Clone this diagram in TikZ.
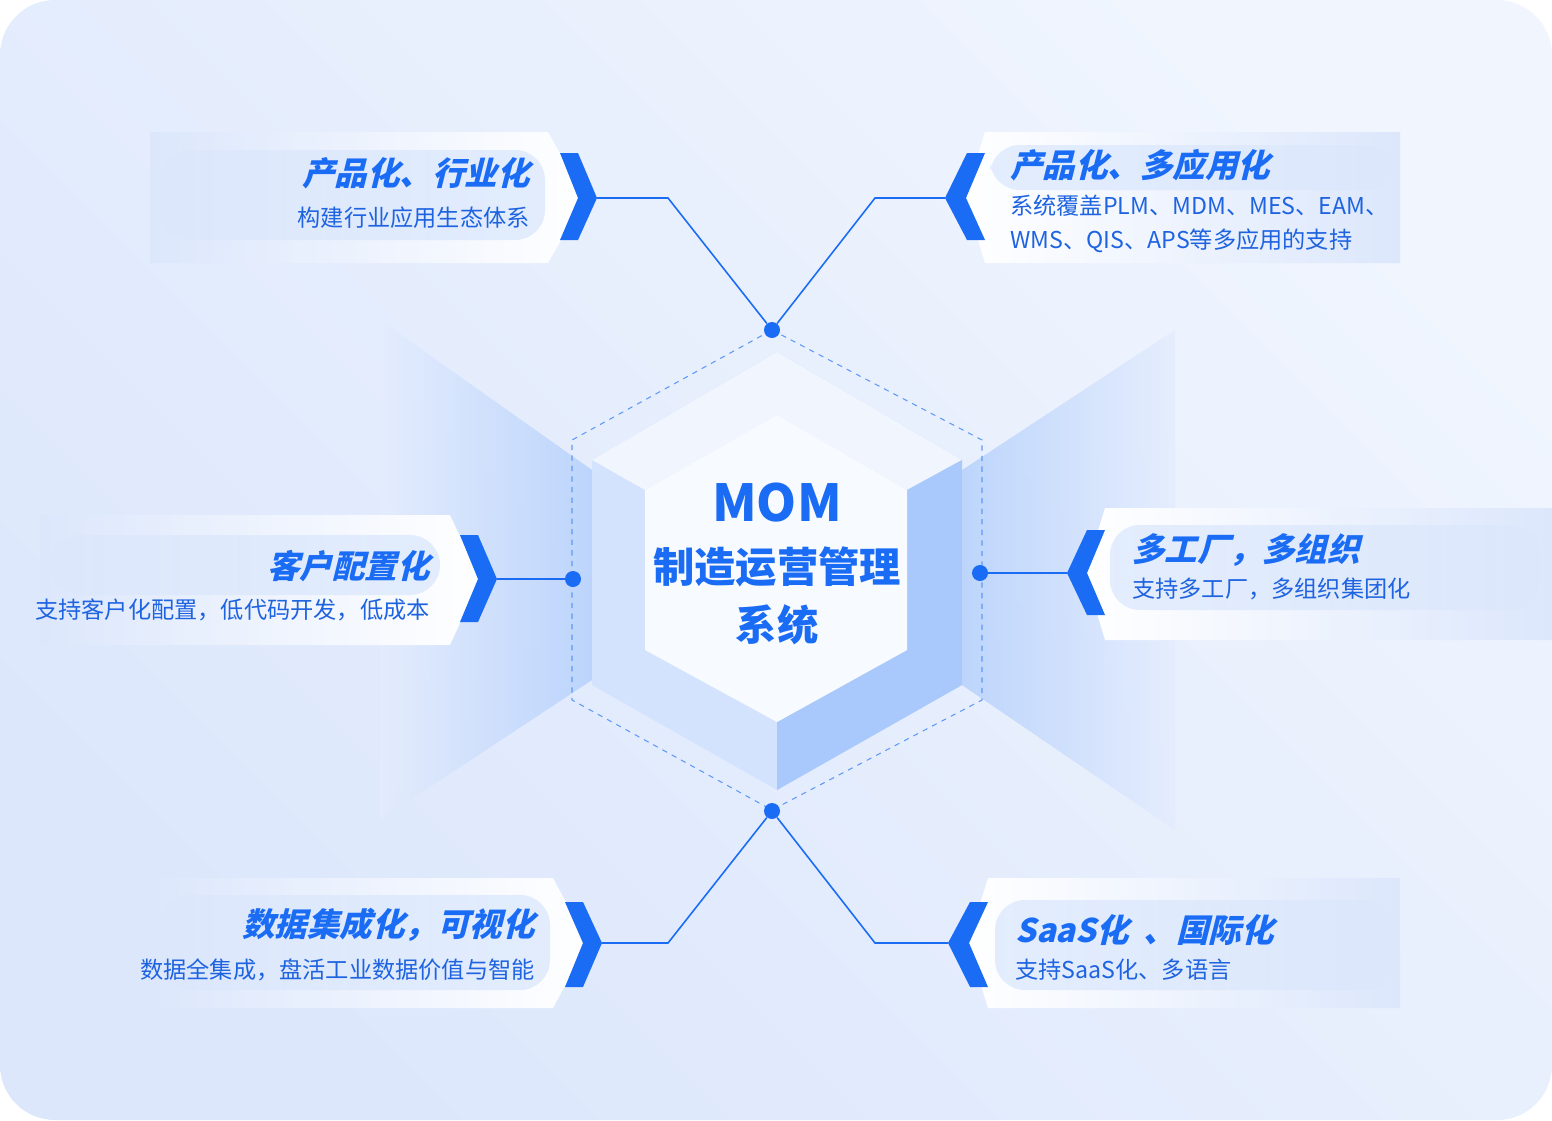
\documentclass[tikz,border=0pt]{standalone}
\usepackage{fontspec}
\newfontfamily\cjk{Noto Sans CJK SC}
\newfontfamily\cjkb{Noto Sans CJK SC}[UprightFont=* Black]
\newfontfamily\cjkt{Noto Sans CJK SC}[UprightFont=* Black,FakeSlant=0.25]
\definecolor{bgA}{HTML}{DCE7FC}
\definecolor{bgB}{HTML}{F0F5FE}
\definecolor{mblue}{HTML}{1A6CF5}
\definecolor{tblue}{HTML}{1E63E0}
\definecolor{lface}{HTML}{D4E3FD}
\definecolor{rface}{HTML}{A9C9FC}
\definecolor{tface}{HTML}{F7FAFF}
\definecolor{glow}{HTML}{B3CFFC}
\begin{document}
\begin{tikzpicture}[x=0.02cm,y=-0.02cm,
  ttl/.style={font=\cjkt\fontsize{18.5}{20}\selectfont,text=mblue,inner sep=0},
  sub/.style={font=\cjk\fontsize{13.2}{19}\selectfont,text=tblue,inner sep=0,align=left},
  chev/.style={fill=mblue},
  conn/.style={draw=mblue,line width=0.9pt},
  dot/.style={circle,fill=mblue,inner sep=0,minimum size=0.32cm},
  strip/.style={opacity=.35,rounded corners=0.6cm}]
% background
\shade[left color=bgA,right color=bgB,shading angle=135,rounded corners=1.1cm] (0,0) rectangle (1552,1120);
\useasboundingbox (0,0) rectangle (1552,1120);
% fans
\shade[left color=bgA!60!bgB,right color=glow,opacity=0.8] (380,320)--(592,470)--(592,680)--(380,820)--cycle;
\shade[right color=bgA!60!bgB,left color=glow,opacity=0.8] (1175,330)--(962,470)--(962,685)--(1175,830)--cycle;
% dashed hexagon
\draw[mblue!70,dashed,line width=0.6pt] (772,330)--(982,440)--(982,700)--(772,810)--(572,700)--(572,440)--cycle;
% cube
\fill[lface] (777,352)--(962,460)--(962,685)--(777,790)--(592,685)--(592,460)--cycle;
\fill[tface!80!lface] (777,352)--(962,460)--(907,490)--(777,415)--(645,490)--(592,460)--cycle;
\fill[rface] (907,490)--(962,460)--(962,685)--(777,790)--(777,722)--(907,650)--cycle;
\fill[tface] (777,415)--(907,490)--(907,650)--(777,722)--(645,650)--(645,490)--cycle;
\node[font=\cjkb\fontsize{29}{32}\selectfont,text=mblue] (mom) at (777,503) {MOM};
\node[font=\cjkb\fontsize{23.5}{25}\selectfont,text=mblue] (zz) at (777,567) {制造运营管理};
\node[font=\cjkb\fontsize{23.5}{25}\selectfont,text=mblue] (xt) at (777,625) {系统};
% dots
\node[dot] (dt) at (772,330) {};
\node[dot] (db) at (772,811) {};
\node[dot] (dl) at (573,579) {};
\node[dot] (dr) at (980,573) {};
% card 1 top-left
\shade[left color=bgA,right color=white] (150,132)--(548,132)--(585,198)--(548,263)--(150,263)--cycle;
\shade[left color=bgA,right color=glow,strip] (160,150)rectangle(545,240);
\fill[chev] (560,153)--(578,153)--(597,198)--(578,240)--(560,240)--(578,198)--cycle;
\coordinate (c1) at (597,198);
\node[ttl,anchor=east] (t1) at (530,173) {产品化、行业化};
\node[sub,anchor=east] (s1) at (530,218) {构建行业应用生态体系};
\draw[conn] (c1)--(668,198)--(dt);
% card 2 top-right
\shade[right color=bgA,left color=white] (985,132)--(1400,132)--(1400,263)--(985,263)--(965,198)--cycle;
\shade[right color=bgA,left color=glow,strip] (990,145)rectangle(1395,190);
\fill[chev] (985,153)--(967,153)--(945,198)--(967,240)--(985,240)--(966,198)--cycle;
\coordinate (c2) at (945,198);
\node[ttl,anchor=west] (t2) at (1010,165) {产品化、多应用化};
\node[sub,anchor=north west] (s2) at (1010,195) {系统覆盖PLM、MDM、MES、EAM、\\WMS、QIS、APS等多应用的支持};
\draw[conn] (c2)--(875,198)--(dt);
% card 3 left-middle
\shade[left color=bgA,right color=white] (40,515)--(450,515)--(480,579)--(450,645)--(40,645)--cycle;
\shade[left color=bgA,right color=glow,strip] (50,535)rectangle(440,595);
\fill[chev] (460,535)--(478,535)--(497,579)--(478,622)--(460,622)--(478,579)--cycle;
\coordinate (c3) at (497,579);
\node[ttl,anchor=east] (t3) at (430,566) {客户配置化};
\node[sub,anchor=east] (s3) at (430,610) {支持客户化配置，低代码开发，低成本};
\draw[conn] (c3)--(dl);
% card 4 right-middle
\shade[right color=bgA,left color=white] (1105,508)--(1552,508)--(1552,640)--(1105,640)--(1085,573)--cycle;
\shade[right color=bgA,left color=glow,strip] (1110,525)rectangle(1540,610);
\fill[chev] (1105,530)--(1087,530)--(1067,573)--(1087,615)--(1105,615)--(1087,573)--cycle;
\coordinate (c4) at (1067,573);
\node[ttl,anchor=west] (t4) at (1132,550) {多工厂，多组织};
\node[sub,anchor=west] (s4) at (1132,589) {支持多工厂，多组织集团化};
\draw[conn] (dr)--(c4);
% card 5 bottom-left
\shade[left color=bgA,right color=white] (150,878)--(553,878)--(588,943)--(553,1008)--(150,1008)--cycle;
\shade[left color=bgA,right color=glow,strip] (160,895)rectangle(550,990);
\fill[chev] (565,902)--(583,902)--(602,943)--(583,987)--(565,987)--(583,943)--cycle;
\coordinate (c5) at (602,943);
\node[ttl,anchor=east] (t5) at (535,925) {数据集成化，可视化};
\node[sub,anchor=east] (s5) at (535,970) {数据全集成，盘活工业数据价值与智能};
\draw[conn] (c5)--(668,943)--(db);
% card 6 bottom-right
\shade[right color=bgA,left color=white] (988,878)--(1400,878)--(1400,1008)--(988,1008)--(968,943)--cycle;
\shade[right color=bgA,left color=glow,strip] (995,900)rectangle(1395,990);
\fill[chev] (988,902)--(970,902)--(948,943)--(970,987)--(988,987)--(969,943)--cycle;
\coordinate (c6) at (948,943);
\node[ttl,anchor=west] (t6) at (1015,930) {SaaS化\ \ 、国际化};
\node[sub,anchor=west] (s6) at (1015,970) {支持SaaS化、多语言};
\draw[conn] (c6)--(875,943)--(db);
\end{tikzpicture}
\end{document}
